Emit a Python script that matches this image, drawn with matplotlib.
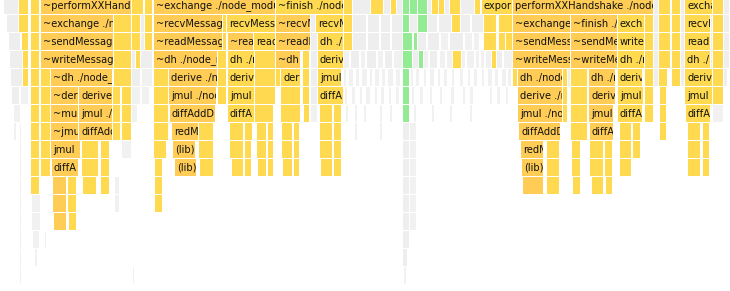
import matplotlib
matplotlib.use("Agg")
import matplotlib.pyplot as plt
from matplotlib.patches import Rectangle
from matplotlib.transforms import Bbox, TransformedBbox
from matplotlib.font_manager import FontProperties

# Flame-graph frames per stack depth: (sample offset, sample count, frame name, kind)
# kind: o = hot frame, y = frame, g = other frame, l = thin other frame, G = green (gc) frame
row0 = [(4, 15, "", "g"), (19, 10, "", "y"), (31, 9, "", "y"),
        (41, 91, "~performXXHandshake ./node_modules/@chainsafe/libp2p-noise", "o"),
        (132, 12, "", "y"), (145, 8, "", "y"),
        (154, 122, "~exchange ./node_modules/@chainsafe/libp2p-noise", "o"),
        (276, 68, "~finish ./node_modules/@chainsafe/libp2p-noise", "y"),
        (344, 9, "", "y"), (353, 18, "", "g"), (371, 13, "", "y"), (384, 7, "", "g"),
        (391, 6, "", "y"), (397, 6, "", "g"), (403, 7, "", "G"), (410, 8, "", "G"),
        (418, 10, "", "G"), (428, 4, "", "g"), (432, 7, "", "y"), (439, 6, "", "y"),
        (445, 5, "", "g"), (450, 11, "", "y"), (461, 14, "", "g"), (475, 6, "", "y"),
        (482, 31, "exports ./node_modules", "y"),
        (513, 141, "performXXHandshake ./node_modules/@chainsafe/libp2p-noise", "o"),
        (654, 5, "", "g"), (659, 12, "", "y"), (672, 9, "", "y"), (681, 4, "", "g"),
        (685, 28, "exchange ./node_modules", "y"), (713, 11, "", "y"), (724, 6, "", "g")]
row1 = [(7, 12, "", "g"), (19, 10, "", "y"), (31, 9, "", "y"),
        (41, 73, "~exchange ./node_modules", "o"), (114, 18, "", "y"), (132, 9, "", "y"),
        (141, 4, "", "g"), (145, 8, "", "y"),
        (154, 69, "~recvMessage ./node_modules", "o"), (223, 4, "", "y"),
        (227, 49, "recvMessage ./node_modules", "y"), (276, 35, "~recvMessage", "o"),
        (311, 5, "", "g"), (316, 28, "recvMessage", "y"), (344, 9, "", "y"),
        (353, 14, "", "g"), (368, 12, "", "g"), (381, 10, "", "g"), (392, 11, "", "g"),
        (403, 7, "", "G"), (410, 8, "", "g"), (418, 10, "", "G"),
        (428, 10, "", "g"), (439, 13, "", "g"), (452, 9, "", "y"),
        (461, 10, "", "g"), (472, 12, "", "g"), (484, 13, "", "y"),
        (499, 14, "", "y"), (513, 58, "~exchange ./node_modules", "o"),
        (571, 47, "~finish ./node_modules", "o"), (618, 27, "exchange ./node", "y"),
        (645, 9, "", "y"), (654, 5, "", "g"), (659, 12, "", "y"), (672, 9, "", "y"),
        (681, 4, "", "g"), (685, 26, "recvMessage", "y"), (711, 2, "", "g"),
        (713, 11, "", "y"), (724, 6, "", "g")]
row2 = [(9, 12, "", "g"), (22, 7, "", "y"), (31, 9, "", "y"),
        (41, 73, "~sendMessage ./node_modules", "o"), (114, 18, "", "y"), (132, 9, "", "y"),
        (141, 4, "", "g"), (145, 8, "", "y"),
        (154, 69, "~readMessage ./node_modules", "o"), (223, 4, "", "y"),
        (228, 26, "~readMessage", "o"), (254, 22, "readMessage", "y"),
        (276, 35, "~readMessage", "o"), (311, 7, "", "g"), (318, 26, "dh ./node_modules", "y"),
        (344, 9, "", "y"), (353, 14, "", "g"), (368, 12, "", "g"), (381, 10, "", "g"),
        (392, 11, "", "g"), (403, 10, "", "G"), (414, 4, "", "G"),
        (418, 9, "", "g"), (428, 12, "", "g"), (441, 8, "", "l"), (450, 14, "", "g"),
        (465, 8, "", "l"), (474, 6, "", "l"), (484, 13, "", "y"), (499, 7, "", "y"),
        (506, 7, "", "y"),
        (513, 58, "~sendMessage ./node_modules", "o"), (571, 47, "~sendMessage", "o"),
        (618, 27, "writeMessage", "y"), (645, 9, "", "y"), (654, 5, "", "g"),
        (659, 12, "", "y"), (672, 9, "", "y"), (681, 4, "", "g"),
        (685, 26, "readMessage", "y"), (711, 2, "", "g"), (713, 11, "", "y"), (724, 6, "", "g")]
row3 = [(10, 13, "", "g"), (23, 6, "", "y"), (31, 9, "", "y"),
        (41, 73, "~writeMessage ./node_modules", "o"), (114, 18, "", "y"), (132, 4, "", "g"),
        (136, 5, "", "y"), (141, 12, "", "g"),
        (154, 64, "~dh ./node_modules/@chainsafe", "o"), (218, 9, "", "y"),
        (228, 27, "dh ./node_modules", "y"), (255, 21, "", "y"), (276, 25, "~dh", "o"),
        (303, 7, "", "y"), (311, 7, "", "g"), (318, 26, "derive", "y"),
        (344, 6, "", "l"), (351, 9, "", "g"), (361, 5, "", "l"), (367, 10, "", "g"),
        (378, 6, "", "l"), (385, 8, "", "g"), (394, 9, "", "l"),
        (403, 10, "", "G"), (413, 6, "", "g"), (419, 5, "", "G"),
        (424, 5, "", "l"), (430, 8, "", "g"), (440, 6, "", "l"), (447, 6, "", "l"),
        (453, 9, "", "y"), (462, 4, "", "l"), (467, 8, "", "l"), (476, 4, "", "l"),
        (481, 4, "", "l"), (486, 6, "", "l"), (492, 5, "", "y"),
        (497, 6, "", "g"), (504, 9, "", "l"), (513, 58, "~writeMessage ./node_modules", "o"),
        (571, 47, "~writeMessage", "o"), (618, 27, "dh ./node", "y"), (645, 9, "", "y"),
        (654, 5, "", "g"), (659, 12, "", "y"), (672, 9, "", "y"), (681, 4, "", "g"),
        (685, 26, "dh ./node", "y"), (711, 2, "", "g"), (713, 11, "", "y"), (724, 6, "", "g")]
row4 = [(11, 12, "", "g"), (23, 6, "", "y"), (31, 9, "", "y"), (41, 10, "", "y"),
        (51, 62, "~dh ./node_modules/@chainsafe", "o"), (114, 18, "", "y"),
        (132, 9, "", "g"), (142, 11, "", "l"), (154, 15, "", "y"),
        (169, 49, "derive ./node_modules", "o"), (218, 9, "", "y"),
        (228, 27, "derive", "y"), (255, 21, "", "y"), (276, 5, "", "y"),
        (281, 20, "derive", "y"), (303, 7, "", "y"), (311, 7, "", "g"),
        (318, 24, "jmul", "y"),
        (344, 3, "", "l"), (349, 5, "", "l"), (356, 4, "", "l"), (362, 6, "", "l"),
        (370, 3, "", "l"), (375, 5, "", "l"), (382, 4, "", "l"), (388, 6, "", "l"),
        (396, 5, "", "l"), (403, 7, "", "G"),
        (411, 3, "", "l"), (416, 4, "", "l"), (424, 3, "", "l"), (430, 5, "", "l"),
        (438, 3, "", "l"), (444, 4, "", "l"), (452, 3, "", "l"), (460, 4, "", "l"),
        (468, 3, "", "l"), (474, 4, "", "l"), (482, 3, "", "l"), (488, 5, "", "l"),
        (495, 4, "", "l"), (502, 5, "", "l"), (508, 4, "", "l"),
        (513, 5, "", "y"), (518, 45, "dh ./node_modules", "o"),
        (563, 5, "", "y"), (568, 3, "", "g"), (571, 17, "", "y"), (589, 27, "dh ./node", "o"),
        (618, 25, "derive", "y"), (645, 9, "", "y"), (654, 5, "", "g"), (659, 9, "", "y"),
        (672, 9, "", "y"), (681, 4, "", "g"), (685, 28, "derive", "y"),
        (713, 11, "", "y"), (724, 4, "", "g")]
row5 = [(12, 8, "", "g"), (21, 8, "", "l"), (31, 9, "", "y"), (41, 10, "", "y"),
        (51, 28, "~derive", "o"), (79, 34, "derive ./node_modules", "o"),
        (113, 8, "", "y"), (122, 10, "", "y"), (132, 9, "", "l"), (142, 8, "", "l"),
        (154, 15, "", "y"),
        (169, 48, "jmul ./node_modules", "o"), (218, 9, "", "y"), (228, 27, "jmul", "y"),
        (255, 21, "", "y"), (281, 20, "", "y"), (303, 7, "", "y"), (311, 7, "", "g"),
        (318, 26, "diffAdd", "y"),
        (345, 3, "", "l"), (352, 4, "", "l"), (360, 3, "", "l"), (366, 5, "", "l"),
        (375, 3, "", "l"), (381, 4, "", "l"), (389, 3, "", "l"), (396, 4, "", "l"),
        (403, 7, "", "G"), (412, 3, "", "l"), (420, 4, "", "l"), (430, 3, "", "l"),
        (440, 3, "", "l"), (451, 4, "", "l"), (463, 3, "", "l"), (470, 4, "", "l"),
        (490, 3, "", "l"), (497, 4, "", "l"), (506, 3, "", "l"),
        (518, 45, "derive ./node_modules", "o"),
        (563, 5, "", "y"), (571, 17, "", "y"), (589, 27, "derive", "o"),
        (618, 26, "jmul", "y"), (645, 9, "", "y"), (660, 7, "", "y"),
        (685, 28, "jmul", "y"), (713, 11, "", "y")]
row6 = [(14, 7, "", "l"), (31, 9, "", "y"), (41, 10, "", "y"),
        (51, 28, "~mul", "o"), (79, 34, "jmul ./node_modules", "o"),
        (113, 8, "", "y"), (122, 10, "", "y"), (132, 6, "", "l"), (154, 15, "", "y"),
        (170, 46, "diffAddDbl", "o"), (228, 27, "diffAdd", "y"), (255, 19, "", "y"),
        (281, 20, "", "y"), (304, 6, "", "y"), (311, 7, "", "l"), (320, 13, "", "y"),
        (334, 8, "", "y"), (346, 3, "", "l"), (355, 3, "", "l"), (364, 3, "", "l"),
        (380, 3, "", "l"), (390, 3, "", "l"), (403, 7, "", "G"), (414, 3, "", "l"),
        (432, 3, "", "l"), (450, 3, "", "l"), (470, 3, "", "l"),
        (518, 45, "jmul ./node_modules", "o"), (563, 5, "", "y"), (571, 17, "", "y"),
        (589, 25, "jmul", "o"), (618, 25, "diffAdd", "y"), (645, 9, "", "y"),
        (660, 7, "", "y"), (686, 25, "diffAdd", "y"), (713, 11, "", "l")]
row7 = [(14, 3, "", "l"), (20, 2, "", "l"), (31, 9, "", "y"), (41, 10, "", "y"),
        (51, 28, "~jmul", "o"), (79, 34, "diffAdd", "o"),
        (113, 8, "", "y"), (122, 10, "", "y"), (154, 15, "", "y"),
        (172, 27, "redMul", "o"), (199, 15, "", "y"), (230, 14, "", "y"),
        (245, 8, "", "y"), (257, 10, "", "y"), (268, 6, "", "y"), (282, 11, "", "y"),
        (294, 6, "", "y"), (320, 13, "", "y"), (334, 8, "", "y"), (355, 3, "", "l"),
        (380, 3, "", "l"), (403, 7, "", "g"), (410, 7, "", "l"),
        (519, 42, "diffAddDbl", "o"), (571, 17, "", "y"), (590, 24, "diffAdd", "o"),
        (620, 12, "", "y"), (633, 8, "", "y"), (660, 7, "", "y"),
        (688, 13, "", "y"), (703, 7, "", "y")]
row8 = [(20, 2, "", "l"), (31, 9, "", "y"), (41, 10, "", "y"), (51, 30, "jmul", "o"),
        (82, 17, "", "y"), (101, 9, "", "y"), (122, 10, "", "l"), (154, 13, "", "y"),
        (173, 23, "(lib)", "o"), (199, 15, "", "y"), (230, 14, "", "y"),
        (245, 7, "", "y"), (257, 10, "", "y"), (268, 6, "", "y"), (282, 11, "", "y"),
        (294, 6, "", "y"), (320, 13, "", "y"), (334, 8, "", "y"), (403, 7, "", "g"),
        (410, 7, "", "l"),
        (521, 23, "redMul", "o"), (547, 13, "", "y"), (572, 9, "", "y"),
        (590, 14, "", "y"), (605, 8, "", "y"), (620, 12, "", "y"), (633, 8, "", "y"),
        (688, 13, "", "y"), (703, 7, "", "y")]
row9 = [(20, 2, "", "l"), (31, 9, "", "y"), (41, 10, "", "y"), (52, 27, "diffAdd", "o"),
        (82, 17, "", "y"), (101, 9, "", "y"), (155, 8, "", "y"),
        (175, 22, "(lib)", "o"), (200, 14, "", "y"), (232, 12, "", "y"),
        (245, 7, "", "y"), (258, 9, "", "y"), (268, 6, "", "y"), (283, 10, "", "y"),
        (294, 6, "", "y"), (321, 12, "", "y"), (334, 8, "", "y"), (403, 7, "", "g"),
        (410, 7, "", "l"),
        (522, 22, "(lib)", "o"), (547, 13, "", "y"), (572, 9, "", "y"),
        (590, 14, "", "y"), (605, 8, "", "y"), (620, 12, "", "y"),
        (688, 13, "", "y"), (703, 7, "", "y")]
row10 = [(20, 2, "", "l"), (31, 9, "", "y"), (53, 14, "", "o"), (68, 9, "", "y"),
         (83, 14, "", "y"), (101, 9, "", "y"), (115, 5, "", "l"), (155, 8, "", "y"),
         (403, 7, "", "g"), (410, 7, "", "l"),
         (523, 21, "", "o"), (547, 13, "", "y"), (573, 8, "", "y"),
         (592, 12, "", "y"), (606, 7, "", "y")]
row11 = [(20, 2, "", "l"), (32, 9, "", "l"), (53, 14, "", "o"), (68, 9, "", "y"),
         (115, 5, "", "l"), (155, 8, "", "y"), (403, 7, "", "g"), (410, 7, "", "l")]
row12 = [(20, 2, "", "l"), (32, 9, "", "l"), (54, 13, "", "o"), (69, 8, "", "y"),
         (403, 7, "", "g"), (410, 7, "", "l")]
row13 = [(20, 2, "", "l"), (33, 7, "", "l"), (45, 2, "", "l"), (403, 7, "", "g")]
row14 = [(20, 2, "", "l"), (35, 3, "", "l"), (403, 5, "", "g")]
row15 = [(20, 2, "", "l"), (133, 2, "", "l"), (404, 3, "", "l")]
rows = [row0, row1, row2, row3, row4, row5, row6, row7, row8, row9,
        row10, row11, row12, row13, row14, row15]

colors = {"o": "#FFCC55", "y": "#FFDA50", "g": "#EEEEEE", "l": "#F1F1F1", "G": "#93EC93"}

W, H = 730, 291
fig = plt.figure(figsize=(W / 100, H / 100), dpi=100)
ax = fig.add_axes([0, 0, 1, 1])
ax.set_xlim(0, W)
ax.set_ylim(H, 0)
ax.axis("off")

renderer = fig.canvas.get_renderer()
prop = FontProperties(family="DejaVu Sans", size=7.1)


def fit(label, avail):
    # keep characters whose left edge still starts inside the frame
    k = len(label)
    while k > 0:
        w, _, _ = renderer.get_text_width_height_descent(label[:k - 1], prop, ismath=False)
        if w < avail - 1:
            break
        k -= 1
    return label[:k]


row_h = 18
top = -3
for depth, frames in enumerate(rows):
    y0 = top + depth * row_h
    for start, count, name, kind in frames:
        rect = Rectangle((start, y0), count - 1, row_h - 1,
                         facecolor=colors[kind], edgecolor="none")
        ax.add_patch(rect)
        if name:
            shown = fit(name, count - 3)
            t = ax.text(start + 2.0, y0 + (row_h - 1) / 2 + 0.5, shown,
                        fontproperties=prop, color="#111111",
                        va="center", ha="left", clip_on=True)
            box = Bbox.from_extents(start, y0, start + count - 1.5, y0 + row_h - 1)
            t.set_clip_box(TransformedBbox(box, ax.transData))
            t.set_clip_path(None)

fig.savefig("out.png", dpi=100)
